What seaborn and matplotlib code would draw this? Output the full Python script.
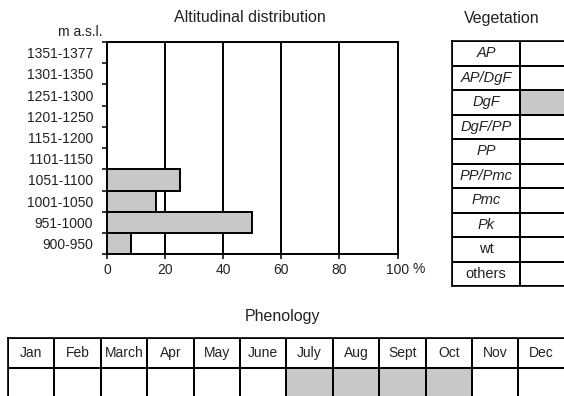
import numpy as np
import pandas as pd
import matplotlib
matplotlib.use("Agg")
import matplotlib.pyplot as plt
from matplotlib.colors import ListedColormap
import seaborn as sns

# altitude classes (m a.s.l.), top to bottom as in the chart
altitudes = ["1351-1377", "1301-1350", "1251-1300", "1201-1250", "1151-1200",
             "1101-1150", "1051-1100", "1001-1050", "951-1000", "900-950"]
percent = [0, 0, 0, 0, 0, 0, 25, 16.7, 50, 8.3]

veg_types = ["AP", "AP/DgF", "DgF", "DgF/PP", "PP", "PP/Pmc", "Pmc", "Pk", "wt", "others"]
veg_present = [0, 0, 1, 0, 0, 0, 0, 0, 0, 0]

months = ["Jan", "Feb", "March", "Apr", "May", "June", "July", "Aug", "Sept", "Oct", "Nov", "Dec"]
month_active = [0, 0, 0, 0, 0, 0, 1, 1, 1, 1, 0, 0]

sns.set_theme(style="white")
plt.rcParams["font.family"] = ["Liberation Sans", "DejaVu Sans"]
ink = "#222222"
grey = "#c8c8c8"
W, H = 564, 396

fig = plt.figure(figsize=(5.64, 3.96), dpi=100)

def box(x0, y0, x1, y1):
    return [x0 / W, 1 - y1 / H, (x1 - x0) / W, (y1 - y0) / H]

# --- altitudinal distribution ---
ax = fig.add_axes(box(107, 42, 397.5, 254.3))
df = pd.DataFrame({"alt": altitudes, "pct": percent})
sns.barplot(data=df, x="pct", y="alt", orient="h", color=grey, saturation=1,
            edgecolor="black", linewidth=1.4, width=1.0, ax=ax, zorder=3)
ax.set_xlim(0, 100)
ax.set_ylim(len(altitudes) - 0.5, -0.5)
ax.set_xlabel("")
ax.set_ylabel("")
ax.set_axisbelow(True)
for x in [20, 40, 60, 80]:
    ax.axvline(x, color="black", lw=1.4, zorder=1)
for s in ax.spines.values():
    s.set_visible(True)
    s.set_color("black")
    s.set_linewidth(1.4)
ax.set_xticks([0, 20, 40, 60, 80, 100])
ax.set_xticklabels(["0", "20", "40", "60", "80", "100"])
ax.tick_params(axis="x", bottom=True, length=3.3, width=1.1, color="black",
               labelsize=10, labelcolor=ink, pad=3.2)
ax.set_yticks(np.arange(-0.5, len(altitudes), 1))
ax.set_yticklabels([])
ax.set_yticks(np.arange(len(altitudes)), minor=True)
ax.set_yticklabels(altitudes, minor=True)
ax.tick_params(axis="y", which="major", left=True, length=3.3, width=1.1, color="black")
ax.tick_params(axis="y", which="minor", left=True, length=0, pad=9.9,
               labelsize=10, labelcolor=ink)
ax.annotate("%", xy=(100, 0), xycoords=("data", "axes fraction"),
            xytext=(10.5, -5.6), textcoords="offset points",
            ha="left", va="top", fontsize=10, color=ink)

fig.text(250 / W, 1 - 17 / H, "Altitudinal distribution", ha="center", va="center",
         fontsize=11.5, color=ink)
fig.text(80 / W, 1 - 32 / H, "m a.s.l.", ha="center", va="center", fontsize=10, color=ink)

cmap = ListedColormap(["white", grey])

# --- vegetation table ---
ax2 = fig.add_axes(box(452, 41, 588, 286))
veg_mat = np.column_stack([np.zeros(len(veg_types)), veg_present])
veg_annot = np.array([[v, ""] for v in veg_types], dtype=object)
sns.heatmap(veg_mat, ax=ax2, cmap=cmap, vmin=0, vmax=1, cbar=False,
            linewidths=1.2, linecolor="black", annot=veg_annot, fmt="",
            annot_kws=dict(fontsize=10.5, color=ink),
            xticklabels=False, yticklabels=False)
for t in ax2.texts:
    if t.get_text() not in ("wt", "others"):
        t.set_style("italic")
for s in ax2.spines.values():
    s.set_visible(True)
    s.set_color("black")
    s.set_linewidth(1.2)
fig.text(502 / W, 1 - 19 / H, "Vegetation", ha="center", va="center",
         fontsize=11.5, color=ink)

# --- phenology table ---
ax3 = fig.add_axes(box(8, 338.3, 8 + 12 * 46.4, 398.3))
phen_mat = np.vstack([np.zeros(len(months)), month_active])
phen_annot = np.array([months, [""] * len(months)], dtype=object)
sns.heatmap(phen_mat, ax=ax3, cmap=cmap, vmin=0, vmax=1, cbar=False,
            linewidths=1.2, linecolor="black", annot=phen_annot, fmt="",
            annot_kws=dict(fontsize=10, color=ink),
            xticklabels=False, yticklabels=False)
for s in ax3.spines.values():
    s.set_visible(True)
    s.set_color("black")
    s.set_linewidth(1.2)
fig.text(282 / W, 1 - 316 / H, "Phenology", ha="center", va="center",
         fontsize=11.5, color=ink)

fig.savefig("out.png", dpi=100)
